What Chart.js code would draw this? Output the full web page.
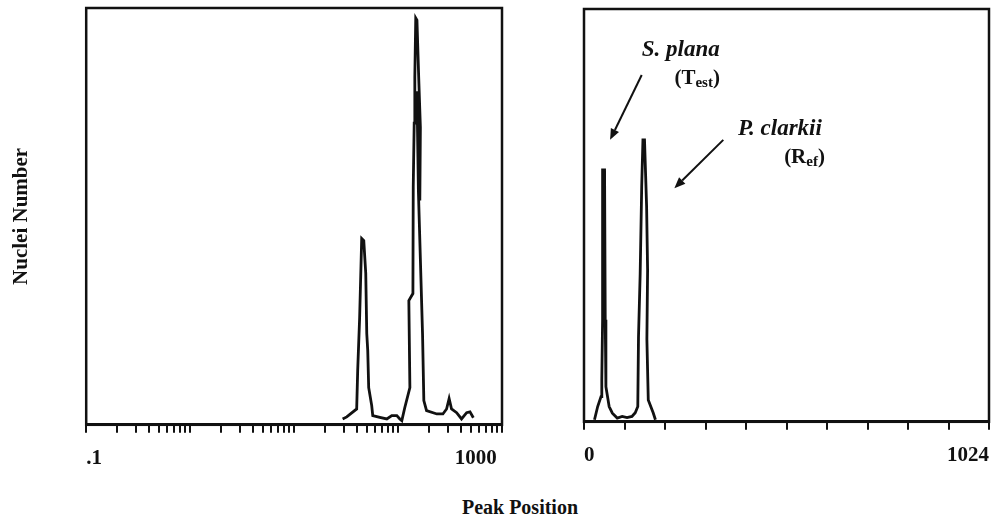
<!DOCTYPE html>
<html>
<head>
<meta charset="utf-8">
<script src="https://cdn.jsdelivr.net/npm/chart.js@4.4.0/dist/chart.umd.min.js"></script>
<style>
  body { margin: 0; background: #fff; width: 1002px; height: 521px; position: relative; overflow: hidden; font-family: "Liberation Serif", serif; }
  #leftBox  { position: absolute; left: 0;     top: 0; width: 540px; height: 484px; }
  #rightBox { position: absolute; left: 540px; top: 0; width: 462px; height: 481px; }
  #xTitle { position: absolute; left: 400px; top: 497px; width: 240px; text-align: center; font: bold 20px/20px "Liberation Serif", serif; color: #111; }
</style>
</head>
<body>
<div id="leftBox"><canvas id="leftChart"></canvas></div>
<div id="rightBox"><canvas id="rightChart"></canvas></div>
<div id="xTitle">Peak Position</div>
<script>
// ---- data ----
// left panel: log peak position vs nuclei count (% of panel height)
const leftPos   = [29.3, 32.1, 40.0, 40.9, 42.7, 44.7, 46.8, 48.9, 50.0, 51.1, 52.2, 55.8, 57.1, 66.7, 78, 87, 97.3, 104, 108.7,
                   116, 130, 127, 139, 140, 143, 145, 148, 152, 158, 164, 162, 152, 157, 172, 177, 188, 236, 270, 293, 310, 327, 366, 408, 457, 492, 530];
const leftCount = [1.4, 1.9, 3.8, 13.0, 25.7, 44.7, 44.2, 36.3, 21.9, 17.8, 8.9, 4.6, 2.2, 1.8, 1.4, 2.2, 2.2, 1.4, 1.0,
                   4.1, 8.9, 29.8, 31.5, 57.0, 72.4, 83.4, 97.6, 97.1, 83.4, 71.4, 53.8, 80, 56, 21.9, 5.8, 3.4, 2.6, 2.6, 3.8, 6.3, 3.8, 2.9, 1.4, 2.9, 3.1, 1.7];

// right panel: linear channel 0..1024, two peaks (S. plana test, P. clarkii reference)
const rightPos   = [26.5, 34.6, 43, 45, 47, 47, 52, 53.7, 55.4, 63.6, 71.7, 84.1, 96.5, 108.8, 121.2, 129.6, 136,
                    137.8, 142, 145.9, 149, 153, 158.3, 160.8, 159, 162.5, 174.9, 180.6];
const rightCount = [0.5, 3.7, 6.1, 10.2, 24.7, 61.0, 61.0, 24.7, 8.5, 3.7, 2.1, 0.9, 1.3, 1.0, 1.3, 2.2, 3.7,
                    20.5, 35.8, 57.0, 68.3, 68.3, 52.1, 36.8, 20.0, 5.3, 2.2, 0.5];

const rightTicks = [0, 102.4, 204.8, 307.2, 409.6, 512, 614.4, 716.8, 819.2, 921.6, 1024];

const ink = '#111';

// minor/major ticks of the log axis: 1..9 per decade
function logTicks() {
  const out = [];
  for (let e = -1; e <= 2; e++) {
    for (let k = 1; k <= 9; k++) out.push(k * Math.pow(10, e));
  }
  out.push(1000);
  return out;
}

// box round the plot area
const framePlugin = {
  id: 'frame',
  afterDraw(chart) {
    const { ctx, chartArea: a } = chart;
    ctx.save();
    ctx.strokeStyle = ink;
    ctx.lineWidth = 2.5;
    ctx.strokeRect(a.left, a.top, a.right - a.left, a.bottom - a.top);
    ctx.restore();
  }
};

function xAxis(extra) {
  return Object.assign({
    grid: { display: true, drawOnChartArea: false, drawTicks: true, tickLength: 8, lineWidth: 2, color: ink },
    border: { display: true, width: 3, color: ink },
    ticks: {
      autoSkip: false, maxRotation: 0, align: 'inner', padding: 13, color: ink,
      font: { family: '"Liberation Serif", serif', size: 21, weight: 'bold' }
    }
  }, extra);
}

// ---- left: log axis ----
new Chart(document.getElementById('leftChart'), {
  type: 'line',
  data: {
    datasets: [{
      data: leftPos.map((x, i) => ({ x, y: leftCount[i] })),
      borderColor: ink, borderWidth: 2.8, pointRadius: 0, tension: 0, fill: false
    }]
  },
  options: {
    responsive: true, maintainAspectRatio: false, animation: false,
    layout: { padding: { left: 3, top: 8, right: 38, bottom: 0 } },
    plugins: { legend: { display: false }, tooltip: { enabled: false } },
    scales: {
      x: xAxis({
        type: 'logarithmic', min: 0.1, max: 1000,
        afterBuildTicks: axis => { axis.ticks = logTicks().map(v => ({ value: v })); }
      }),
      y: {
        min: 0, max: 100,
        grid: { display: false }, border: { display: false },
        ticks: { display: false },
        title: {
          display: true, text: 'Nuclei Number', color: ink,
          font: { family: '"Liberation Serif", serif', size: 21, weight: 'bold' },
          padding: { top: 6, bottom: 44 }
        }
      }
    }
  },
  plugins: [framePlugin]
});
// labels only at the ends
Chart.getChart('leftChart').options.scales.x.ticks.callback = v => (v === 0.1 ? '.1' : v === 1000 ? '1000 ' : '');
Chart.getChart('leftChart').update();

// ---- right: annotations in data units ----
const notes = [
  { text: 'S. plana', x: 145.9, y: 88.6, italic: true },
  { text: '(T', sub: 'est', x: 228.6, y: 81.8 },
  { text: 'P. clarkii', x: 389.3, y: 69.5, italic: true },
  { text: '(R', sub: 'ef', x: 506, y: 62.7 }
];
const arrows = [
  { from: [145.9, 84.0], to: [66.0, 68.3] },
  { from: [352.2, 68.3], to: [228.5, 56.6] }
];

const notePlugin = {
  id: 'notes',
  afterDraw(chart) {
    const { ctx, scales: { x, y } } = chart;
    ctx.save();
    ctx.fillStyle = ink;
    ctx.strokeStyle = ink;
    ctx.textBaseline = 'alphabetic';
    ctx.textAlign = 'left';
    notes.forEach(n => {
      let px = x.getPixelForValue(n.x);
      const py = y.getPixelForValue(n.y);
      ctx.font = (n.italic ? 'italic ' : '') + 'bold 23px "Liberation Serif", serif';
      if (!n.sub) { ctx.fillText(n.text, px, py); return; }
      ctx.font = 'bold 21px "Liberation Serif", serif';
      ctx.fillText(n.text, px, py);
      px += ctx.measureText(n.text).width;
      ctx.font = 'bold 15px "Liberation Serif", serif';
      ctx.fillText(n.sub, px, py + 3);
      px += ctx.measureText(n.sub).width;
      ctx.font = 'bold 21px "Liberation Serif", serif';
      ctx.fillText(')', px, py);
    });
    ctx.lineWidth = 2;
    arrows.forEach(a => {
      const x0 = x.getPixelForValue(a.from[0]), y0 = y.getPixelForValue(a.from[1]);
      const x1 = x.getPixelForValue(a.to[0]),   y1 = y.getPixelForValue(a.to[1]);
      const ang = Math.atan2(y1 - y0, x1 - x0);
      const hl = 11, hw = 4.5;
      const bx = x1 - hl * Math.cos(ang), by = y1 - hl * Math.sin(ang);
      ctx.beginPath();
      ctx.moveTo(x0, y0);
      ctx.lineTo(bx, by);
      ctx.stroke();
      ctx.beginPath();
      ctx.moveTo(x1, y1);
      ctx.lineTo(bx + hw * Math.sin(ang), by - hw * Math.cos(ang));
      ctx.lineTo(bx - hw * Math.sin(ang), by + hw * Math.cos(ang));
      ctx.closePath();
      ctx.fill();
    });
    ctx.restore();
  }
};

// ---- right: linear axis ----
new Chart(document.getElementById('rightChart'), {
  type: 'line',
  data: {
    datasets: [{
      data: rightPos.map((x, i) => ({ x, y: rightCount[i] })),
      borderColor: ink, borderWidth: 2.8, pointRadius: 0, tension: 0, fill: false
    }]
  },
  options: {
    responsive: true, maintainAspectRatio: false, animation: false,
    layout: { padding: { left: 44, top: 9, right: 4, bottom: 0 } },
    plugins: { legend: { display: false }, tooltip: { enabled: false } },
    scales: {
      x: xAxis({
        type: 'linear', min: 0, max: 1024,
        afterBuildTicks: axis => { axis.ticks = rightTicks.map(v => ({ value: v })); }
      }),
      y: { display: false, min: 0, max: 100 }
    }
  },
  plugins: [framePlugin, notePlugin]
});
Chart.getChart('rightChart').options.scales.x.ticks.callback = v => (v === 0 ? '0' : v === 1024 ? '1024' : '');
Chart.getChart('rightChart').update();
</script>
</body>
</html>
